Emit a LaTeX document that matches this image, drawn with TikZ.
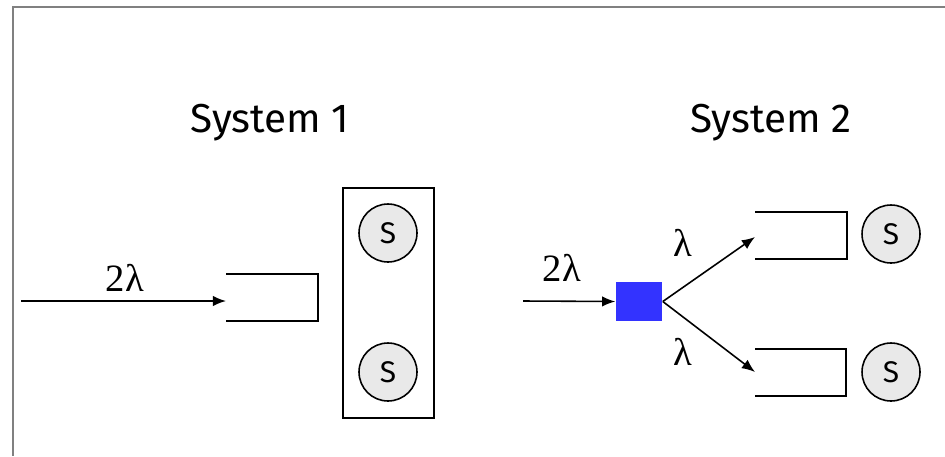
\documentclass[tikz,border=0pt]{standalone}
\usepackage{fontspec}
\usepackage{tikz}
\usetikzlibrary{arrows.meta}
\newfontfamily\handfont{Fira Sans}
\newfontfamily\ratefont{Liberation Serif}

\begin{document}
\begin{tikzpicture}[
  x=0.02cm, y=-0.02cm,
  every path/.style={line width=0.9pt},
  title/.style={anchor=base,inner sep=0pt,font=\handfont\fontsize{23}{27}\selectfont},
  rate/.style={inner sep=0pt,font=\ratefont\fontsize{22}{26}\selectfont},
  server/.style={circle,draw,fill=gray!17,minimum size=1.16cm,inner sep=0pt,
    font=\handfont\fontsize{17}{20}\selectfont},
  queue/.style={line width=0.9pt},
]
\tikzset{>={Latex[length=7.5pt,width=6pt]}}
\useasboundingbox (0,0) rectangle (945,456);
% frame
\draw[gray,line width=1.1pt] (945,7) -- (13,7) -- (13,456);
% system 1
\node[title] (t1) at (270,132) {System 1};
\coordinate (in1) at (21,301); \coordinate (q1) at (226,301);
\draw[->] (in1) -- (q1);
\node[rate] (r1) at (125,278) {2λ};
\draw[queue] (226,274) -| (318,321) -- (226,321);
\node[draw,minimum width=1.82cm,minimum height=4.6cm,inner sep=0pt] (box) at (388.5,303) {};
\node[server] (s1) at (388,233) {S};
\node[server] (s2) at (388,372) {S};
% system 2
\node[title] (t2) at (771,132) {System 2};
\coordinate (in2) at (523,301);
\node[fill=blue!80,minimum width=0.92cm,minimum height=0.78cm,inner sep=0pt] (sw) at (639,301.5) {};
\draw[->] (in2) -- (sw.west);
\node[rate] (r2) at (562,268) {2λ};
\coordinate (qa) at (755,237); \coordinate (qb) at (755,372);
\draw[->] (sw.east) -- (qa);
\draw[->] (sw.east) -- (qb);
\node[rate] (la) at (683,243) {λ};
\node[rate] (lb) at (683,352) {λ};
\draw[queue] (755,212) -| (847,259) -- (755,259);
\draw[queue] (755,349) -| (846,396) -- (755,396);
\node[server] (s3) at (891,234) {S};
\node[server] (s4) at (891,372) {S};
\end{tikzpicture}
\end{document}
